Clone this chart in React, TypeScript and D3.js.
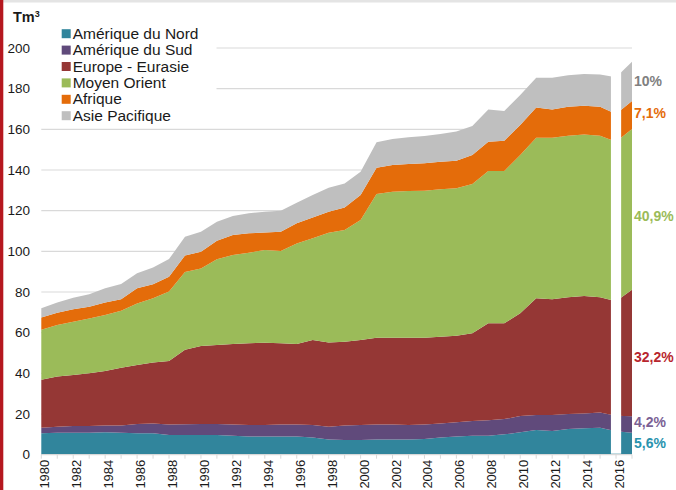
import React from 'react';
import * as d3 from 'd3';

// Réserves prouvées de gaz naturel par région (Tm³)
const years = [
  1980, 1981, 1982, 1983, 1984, 1985, 1986, 1987, 1988, 1989,
  1990, 1991, 1992, 1993, 1994, 1995, 1996, 1997, 1998, 1999,
  2000, 2001, 2002, 2003, 2004, 2005, 2006, 2007, 2008, 2009,
  2010, 2011, 2012, 2013, 2014, 2015, 2016, 2017,
];

const ameriqueNord = [
  10.5, 10.8, 10.8, 10.8, 11.0, 10.8, 10.5, 10.5, 9.7, 9.7,
  9.7, 9.7, 9.3, 8.9, 8.9, 8.9, 8.9, 8.5, 7.5, 7.2,
  7.2, 7.5, 7.5, 7.5, 7.7, 8.4, 8.9, 9.3, 9.3, 10.0,
  11.0, 12.1, 11.6, 12.6, 13.0, 13.3, 11.5, 10.8,
];
const ameriqueSud = [
  2.7, 3.0, 3.3, 3.3, 3.3, 3.6, 4.6, 4.9, 5.2, 5.3,
  5.4, 5.4, 5.6, 5.7, 5.7, 6.0, 6.0, 6.1, 6.3, 7.1,
  7.4, 7.4, 7.4, 7.1, 7.2, 7.0, 7.0, 7.3, 7.7, 7.5,
  8.0, 7.4, 7.9, 7.4, 7.3, 7.4, 7.7, 8.1,
];
const europeEurasie = [
  23.7, 24.6, 25.1, 25.9, 26.8, 28.4, 29.0, 30.0, 31.2, 36.6,
  38.3, 38.8, 39.5, 40.2, 40.5, 39.9, 39.5, 41.8, 41.4, 41.3,
  41.8, 42.6, 42.6, 42.9, 42.6, 42.6, 42.6, 43.1, 47.6, 47.1,
  50.5, 57.4, 56.9, 57.4, 57.7, 56.7, 56.3, 62.2,
];
const moyenOrient = [
  24.6, 25.4, 26.2, 27.0, 27.6, 28.0, 30.3, 31.5, 34.1, 38.2,
  38.2, 42.2, 43.8, 44.5, 45.6, 45.4, 49.5, 50.0, 54.0, 54.9,
  59.0, 70.7, 71.8, 72.2, 72.3, 72.5, 72.5, 73.4, 74.9, 74.9,
  77.9, 79.0, 79.5, 79.5, 79.5, 79.5, 78.4, 79.1,
];
const afrique = [
  6.0, 6.0, 6.1, 5.8, 6.1, 5.6, 7.4, 6.9, 7.3, 8.1,
  8.2, 9.1, 9.8, 9.6, 8.6, 9.5, 9.9, 10.3, 10.3, 11.1,
  12.3, 12.9, 13.2, 13.3, 13.5, 13.6, 13.6, 14.3, 14.4, 14.9,
  14.7, 14.8, 13.9, 14.2, 14.1, 14.2, 13.7, 13.7,
];
const asiePacifique = [
  4.5, 5.0, 5.7, 6.1, 7.0, 7.5, 7.4, 8.2, 8.7, 9.3,
  9.9, 9.4, 9.4, 9.8, 10.2, 10.3, 10.1, 11.0, 11.8, 11.8,
  11.5, 12.5, 12.7, 13.1, 13.4, 13.6, 14.3, 14.2, 15.9, 14.6,
  14.8, 14.7, 15.6, 15.5, 15.6, 15.9, 18.0, 19.3,
];

const seriesNames = [
  'Amérique du Nord',
  'Amérique du Sud',
  'Europe - Eurasie',
  'Moyen Orient',
  'Afrique',
  'Asie Pacifique',
];
const seriesValues = [ameriqueNord, ameriqueSud, europeEurasie, moyenOrient, afrique, asiePacifique];
const seriesColors = ['#31859C', '#604A7B', '#953735', '#9BBB59', '#E46C0A', '#BFBFBF'];

// parts 2016 affichées à droite
const shareLabels = ['5,6%', '4,2%', '32,2%', '40,9%', '7,1%', '10%'];
const shareColors = ['#2A93AE', '#7B6194', '#B8262E', '#9BBB59', '#E46C0A', '#808080'];

const yTicks = [0, 20, 40, 60, 80, 100, 120, 140, 160, 180, 200];
const xLabels = [1980, 1982, 1984, 1986, 1988, 1990, 1992, 1994, 1996, 1998,
  2000, 2002, 2004, 2006, 2008, 2010, 2012, 2014, 2016];

const FONT = '"Liberation Sans", Arial, sans-serif';

export default function App() {
  const width = 676;
  const height = 490;

  const x = d3.scaleLinear().domain([1980, 2017]).range([41.3, 632]);
  const y = d3.scaleLinear().domain([0, 200]).range([454.7, 48]);

  const rows = years.map((yr, i) => {
    const r: any = { year: yr };
    seriesNames.forEach((name, k) => { r[name] = seriesValues[k][i]; });
    return r;
  });

  const stacked = d3.stack().keys(seriesNames)(rows);

  const area = d3.area<any>()
    .x(d => x(d.data.year))
    .y0(d => y(d[0]))
    .y1(d => y(d[1]));

  // the 2016 gap between the history and the share column
  const gapX = x(2016);
  const step = x(1981) - x(1980);

  // vertical positions of the share labels
  const labelY = [448.3, 426.7, 361.7, 221, 118.3, 86];

  return (
    <svg width={width} height={height}
      style={{ position: 'absolute', left: 0, top: 0, background: '#fff' }}
      fontFamily={FONT}>
      <rect x={0} y={0} width={width} height={2.5} fill="#e4e4e4" />
      <rect x={0} y={0} width={3.3} height={height} fill="#B5171F" />

      {/* gridlines */}
      {yTicks.filter(t => t > 0).map(t => (
        <line key={t} x1={x(1980)} x2={x(2017)} y1={y(t)} y2={y(t)}
          stroke="#d9d9d9" strokeWidth={1.2} />
      ))}

      {/* stacked areas */}
      {stacked.map((s, i) => (
        <path key={s.key} d={area(s as any) || ''} fill={seriesColors[i]} />
      ))}

      {/* white gap at 2016 */}
      <rect x={gapX - step * 0.32} y={y(196)} width={step * 0.64}
        height={y(0) - y(196) - 1} fill="#fff" />

      {/* x axis */}
      <line x1={x(1980)} x2={x(2017)} y1={y(0)} y2={y(0)} stroke="#d9d9d9" strokeWidth={1.2} />
      {years.map(yr => (
        <line key={yr} x1={x(yr)} x2={x(yr)} y1={y(0)} y2={y(0) + 4}
          stroke="#d9d9d9" strokeWidth={1} />
      ))}
      {xLabels.map(yr => (
        <text key={yr} transform={`translate(${x(yr) + 8},${y(0) + 5})rotate(-90)`}
          textAnchor="end" fontSize={13} fill="#1a1a1a">{yr}</text>
      ))}

      {/* y axis labels */}
      {yTicks.map(t => (
        <text key={t} x={30} y={y(t)} dy="0.35em" textAnchor="end"
          fontSize={13.5} fill="#1a1a1a">{t}</text>
      ))}

      <text x={13} y={21.5} fontSize={14.5} fontWeight="bold" fill="#1a1a1a">
        Tm<tspan fontSize={9} dy={-5}>3</tspan>
      </text>

      {/* legend */}
      <rect x={40} y={22} width={176.5} height={103} fill="#fff" />
      {seriesNames.map((name, i) => (
        <g key={name} transform={`translate(61.7,${33.7 + i * 16.4})`}>
          <rect x={0} y={-4.5} width={9} height={9} fill={seriesColors[i]} />
          <text x={11} y={5} fontSize={15.5} fill="#1a1a1a">{name}</text>
        </g>
      ))}

      {/* share labels */}
      {shareLabels.map((lab, i) => (
        <text key={lab} x={634} y={labelY[i]} fontSize={14} fontWeight="bold"
          fill={shareColors[i]}>{lab}</text>
      ))}
    </svg>
  );
}
